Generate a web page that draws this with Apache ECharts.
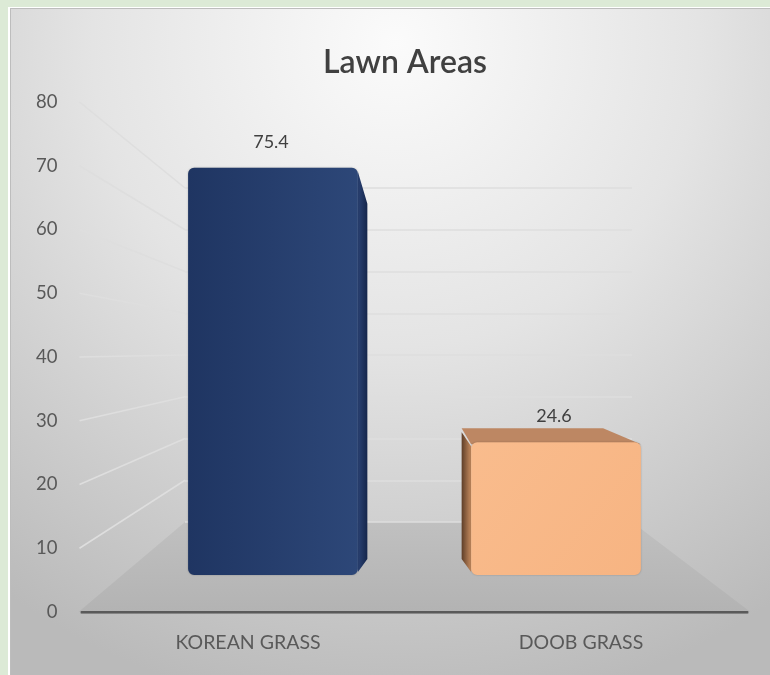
<!DOCTYPE html>
<html><head><meta charset="utf-8">
<script src="https://cdn.jsdelivr.net/npm/echarts@6/dist/echarts.min.js"></script>
<style>html,body{margin:0;padding:0;background:#dcead6;}#c{width:770px;height:675px;}</style>
</head><body><div id="c"></div>
<script>
// ---- data ----
const categories = ['KOREAN GRASS', 'DOOB GRASS'];
const values = [75.4, 24.6];
const yTicks = [0, 10, 20, 30, 40, 50, 60, 70, 80];
const title = 'Lawn Areas';

// ---- layout / style constants ----
const FONT = 'Lato, "Open Sans", sans-serif';
const gridFront = {left: 81.5, right: 22.5, top: 102, bottom: 63};
const gridBars  = {left: 131.5, right: 72.5, top: 143, bottom: 100};
const gridBack  = {left: 185, right: 138, top: 188, bottom: 153};
const EYE_VALUE = 40;     // value at eye height (vanishing point)
const DEPTH = 0.167;      // depth of the boxes toward vanishing point
const frontColors = [
  new echarts.graphic.LinearGradient(0,0,1,0,[{offset:0,color:'#1f3562'},{offset:1,color:'#2d4778'}]),
  new echarts.graphic.LinearGradient(0,0,1,1,[{offset:0,color:'#f9bc8d'},{offset:1,color:'#f7b482'}])
];
const sideColors = [
  new echarts.graphic.LinearGradient(0,0,1,0,[{offset:0,color:'#2a4273'},{offset:1,color:'#15264b'}]),
  new echarts.graphic.LinearGradient(0,0,1,0,[{offset:0,color:'#5e3e28'},{offset:1,color:'#c48a5e'}])
];
const topColors = ['#2a4270', '#bd8763'];

const chart = echarts.init(document.getElementById('c'), null, {renderer:'canvas'});

const yMin = yTicks[0], yMax = yTicks[yTicks.length-1], yStep = yTicks[1]-yTicks[0];

function renderBar(params, api) {
  const i = api.value(0), v = api.value(1);
  const top = api.coord([i, v]);
  const base = api.coord([i, 0]);
  const w = api.size([1, 0])[0] * 0.6;
  const c0 = api.coord([0, EYE_VALUE]), c1 = api.coord([categories.length-1, EYE_VALUE]);
  const vp = [(c0[0]+c1[0])/2, c0[1]];
  const xL = top[0]-w/2, xR = top[0]+w/2, yT = top[1], yB = base[1];
  const back = p => [p[0] + (vp[0]-p[0])*DEPTH, p[1] + (vp[1]-p[1])*DEPTH];
  const children = [];
  const sx = top[0] < vp[0] ? xR : xL;
  const sTop = back([sx, yT]), sBot = back([sx, yB]);
  const botY = Math.max(sBot[1], yB - 12);
  children.push({type:'polygon', shape:{points:[[sx,yT+4],[sTop[0],sTop[1]+4],[sBot[0],botY-4],[sx,yB-3]]},
    style:{fill: sideColors[i]}});
  if (yT > vp[1]) {
    const a = back([xL, yT]), b = back([xR, yT]);
    children.push({type:'polygon', shape:{points:[[xL,yT+2],[a[0],a[1]],[b[0],b[1]],[xR,yT+2]]},
      style:{fill: topColors[i]}});
  }
  children.push({type:'rect', shape:{x:xL, y:yT, width:w, height:yB-yT, r:6},
    style:{fill: frontColors[i], shadowBlur:2, shadowColor:'rgba(0,0,0,0.25)'}});
  children.push({type:'text', x: top[0]-2, y: yT-26,
    style:{text: String(v), fill:'#404040', font:'18px '+FONT, align:'center', verticalAlign:'middle'}});
  return {type:'group', children};
}

const option = {
  animation: false,
  backgroundColor: '#dcead6',
  title: {text: title, left: 400, top: 42, textAlign: 'center',
          textStyle:{fontFamily: FONT, fontSize: 32, fontWeight: 600, color:'#404040'}},
  grid: [
    Object.assign({}, gridFront),
    Object.assign({}, gridBars),
    Object.assign({}, gridBack)
  ],
  xAxis: [
    {gridIndex:0, type:'category', data: categories,
     axisLine:{show:true, lineStyle:{color:'#5a5a5a', width:2, shadowColor:'rgba(0,0,0,0.3)', shadowOffsetY:1}},
     axisTick:{show:false},
     axisLabel:{color:'#595959', fontFamily: FONT, fontSize: 19.5, margin: 21}},
    {gridIndex:1, type:'category', data: categories, show:false},
    {gridIndex:2, type:'category', data: categories, show:false}
  ],
  yAxis: [
    {gridIndex:0, type:'value', min:yMin, max:yMax, interval:yStep,
     axisLine:{show:false}, axisTick:{show:false}, splitLine:{show:false},
     axisLabel:{color:'#595959', fontFamily: FONT, fontSize: 18.5, margin: 24}},
    {gridIndex:1, type:'value', min:yMin, max:yMax, interval:yStep, show:false},
    {gridIndex:2, type:'value', min:yMin, max:yMax, interval:yStep,
     axisLine:{show:false}, axisTick:{show:false}, axisLabel:{show:false},
     splitLine:{show:true, lineStyle:{color:'#dedede', width:1.5}}}
  ],
  series: [
    {type:'custom', xAxisIndex:1, yAxisIndex:1, z:5,
     data: values.map((v,i)=>[i, v]), renderItem: renderBar}
  ]
};
chart.setOption(option);

// decorations tied to the axes: side-wall gridlines + floor
const W = 770, H = 675;
const frontL = gridFront.left, frontR = W - gridFront.right;
const backL = gridBack.left, backR = W - gridBack.right;
const lines = [];
yTicks.forEach(t => {
  if (t === yMin) return;
  const yf = chart.convertToPixel({yAxisIndex:0}, t);
  const yb = chart.convertToPixel({yAxisIndex:2}, t);
  lines.push({type:'line', z:-1, shape:{x1:frontL-2, y1:yf, x2:backL, y2:yb},
    style:{stroke:'#dedede', lineWidth:1.5}});
});
const y0f = chart.convertToPixel({yAxisIndex:0}, yMin);
const y0b = chart.convertToPixel({yAxisIndex:2}, yMin);
chart.setOption({
  graphic: [
    {type:'rect', z:-100, shape:{x:8, y:7, width:W, height:H}, style:{fill:'#ffffff'}},
    {type:'rect', z:-99, shape:{x:10, y:8, width:W, height:H}, style:{fill:'#bdbdbd'}},
    {type:'rect', z:-98, shape:{x:11, y:9, width:W, height:H},
     style:{fill: new echarts.graphic.RadialGradient(0.5, 0.05, 1.0, [
       {offset:0, color:'#fbfbfb'}, {offset:0.45, color:'#e4e4e4'}, {offset:1, color:'#bababa'}])}},
    {type:'polygon', z:-2, shape:{points:[[frontL-3, y0f],[frontR+3, y0f],[backR, y0b],[backL, y0b]]},
     style:{fill: new echarts.graphic.LinearGradient(0,0,0,1,[{offset:0,color:'#c0c0c0'},{offset:1,color:'#b3b3b3'}])}}
  ].concat(lines)
});
</script></body></html>
